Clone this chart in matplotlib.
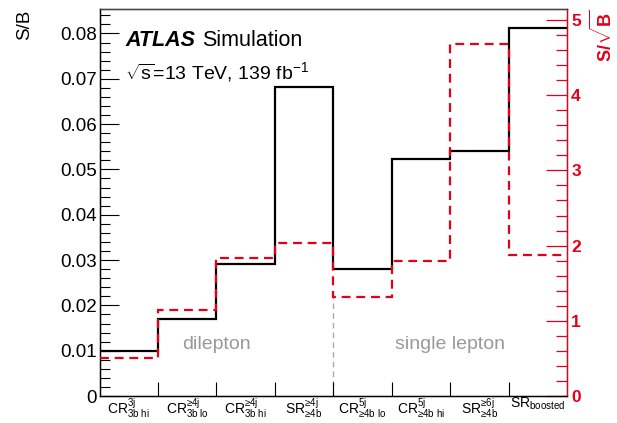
import matplotlib
matplotlib.use("Agg")
import matplotlib.pyplot as plt
from matplotlib.ticker import MultipleLocator, FuncFormatter
import numpy as np

plt.rcParams['font.family'] = ['Liberation Sans', 'DejaVu Sans']
plt.rcParams['mathtext.fontset'] = 'custom'
plt.rcParams['mathtext.rm'] = 'Liberation Sans'
plt.rcParams['mathtext.it'] = 'Liberation Sans:italic'
plt.rcParams['mathtext.bf'] = 'Liberation Sans:bold'

# Analysis regions
categories = [
    r'CR$^{\mathregular{3j}}_{\mathregular{3b\ hi}}$',
    r'CR$^{\mathregular{≥4j}}_{\mathregular{3b\ lo}}$',
    r'CR$^{\mathregular{≥4j}}_{\mathregular{3b\ hi}}$',
    r'SR$^{\mathregular{≥4j}}_{\mathregular{≥4b}}$',
    r'CR$^{\mathregular{5j}}_{\mathregular{≥4b\ lo}}$',
    r'CR$^{\mathregular{5j}}_{\mathregular{≥4b\ hi}}$',
    r'SR$^{\mathregular{≥6j}}_{\mathregular{≥4b}}$',
    r'SR$_{\mathregular{boosted}}$',
]
s_over_b = [0.0100, 0.0170, 0.0291, 0.0682, 0.0281, 0.0522, 0.0541, 0.0813]
s_over_sqrtb = [0.50, 1.14, 1.83, 2.03, 1.32, 1.80, 4.68, 1.88]
channels = ['dilepton', 'single lepton']

RED = '#e2001a'
n = len(categories)
edges = np.arange(n + 1)

fig = plt.figure(figsize=(6.17, 4.23), dpi=100)
ax = fig.add_axes([0.1613, 0.0638, 0.7577, 0.9149])
ax2 = ax.twinx()

ax.stairs(s_over_b, edges, color='black', lw=1.6, baseline=None, zorder=3)
ax2.stairs(s_over_sqrtb, edges, color=RED, lw=1.6, ls=(0, (4, 2.6)), baseline=None, zorder=3)

# channel separator
ax.plot([4, 4], [0, 0.022], color='#aaaaaa', lw=1.0, ls=(0, (4, 3)), zorder=1)

ax.set_xlim(0, n)
ax.set_ylim(0, 0.0854)
ax2.set_ylim(0, 5.146)

# x axis: tick marks on bin edges, labels at bin centres
ax.set_xticks(edges[1:-1], minor=True)
ax.tick_params(axis='x', which='minor', direction='in', length=10, width=0.8, top=False)
ax.set_xticks(np.arange(n) + 0.5)
ax.set_xticklabels(categories, fontsize=10)
ax.tick_params(axis='x', which='major', length=0, pad=0)

# left axis
ax.yaxis.set_major_locator(MultipleLocator(0.01))
ax.yaxis.set_minor_locator(MultipleLocator(0.002))
ax.yaxis.set_major_formatter(FuncFormatter(lambda v, p: '0' if abs(v) < 1e-9 else f'{v:.2f}'))
ax.tick_params(axis='y', which='major', direction='in', length=14, width=0.8, labelsize=13.5, right=False, pad=2)
ax.tick_params(axis='y', which='minor', direction='in', length=7, width=0.8, right=False)

# right axis
ax2.yaxis.set_major_locator(MultipleLocator(1))
ax2.yaxis.set_minor_locator(MultipleLocator(0.2))
ax2.tick_params(axis='y', which='major', direction='in', length=15, width=0.9, colors=RED, labelsize=12.5, pad=3)
ax2.tick_params(axis='y', which='minor', direction='in', length=8, width=0.9, colors=RED)
for t in ax2.get_yticklabels():
    t.set_fontweight('bold')
ax2.spines['right'].set_color(RED)
ax2.spines['right'].set_linewidth(1.0)
for sp in ['left', 'top', 'bottom']:
    ax.spines[sp].set_linewidth(1.0)
ax2.spines['top'].set_color('#444444')

# axis titles
fig.text(0.040, 0.978, 'S/B', rotation=90, ha='center', va='top', fontsize=13.5)
fig.text(0.977, 0.978, r'$\mathbf{S/\sqrt{B}}$', rotation=90, ha='center', va='top',
         fontsize=13, color=RED)

# experiment label
ax.text(0.055, 0.905, 'ATLAS', transform=ax.transAxes, fontsize=15.5,
        fontweight='bold', fontstyle='italic', va='baseline')
ax.text(0.220, 0.905, 'Simulation', transform=ax.transAxes, fontsize=15.5, va='baseline')
ax.text(0.055, 0.820, r'$\sqrt{\mathregular{s}}$=13 TeV, 139 fb$^{\mathregular{-1}}$',
        transform=ax.transAxes, fontsize=14, va='baseline')

# channel labels
ax.text(2.0, 0.0114, channels[0], ha='center', va='center', fontsize=14, color='#999999')
ax.text(6.0, 0.0114, channels[1], ha='center', va='center', fontsize=14, color='#999999')

fig.savefig('out.png', dpi=100)
